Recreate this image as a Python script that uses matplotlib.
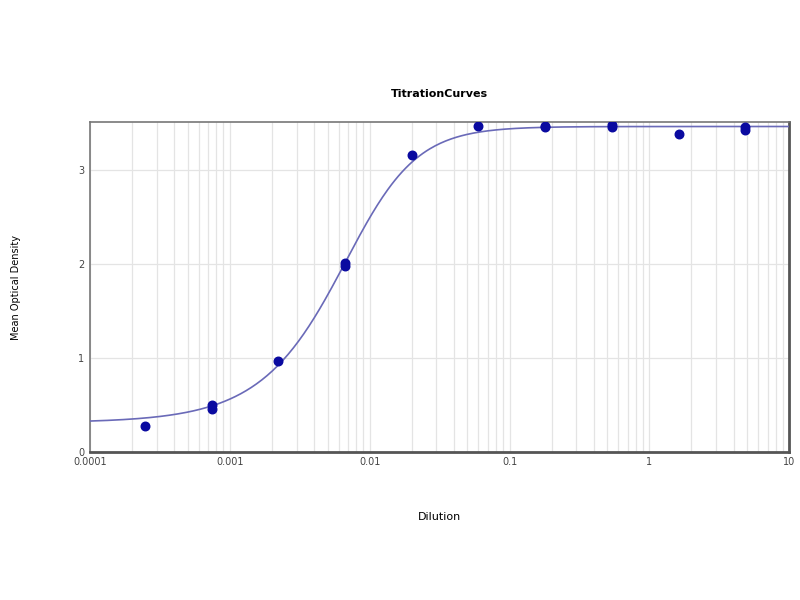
import numpy as np
import matplotlib.pyplot as plt
from matplotlib.ticker import LogLocator, FixedLocator, NullFormatter

# measured points (duplicates per dilution)
dilution = [0.000247, 0.00074, 0.00074, 0.00222, 0.00667, 0.00667,
            0.02, 0.06, 0.18, 0.18, 0.54, 0.54, 1.62, 4.86, 4.86]
od = [0.27, 0.50, 0.45, 0.97, 2.01, 1.98,
      3.16, 3.47, 3.47, 3.46, 3.48, 3.45, 3.38, 3.45, 3.42]

# 5PL fit parameters
bottom = 0.31
top = 3.46
c = 0.0086
hill = 1.8
asym = 0.65

xlabels = ['0.0001', '0.001', '0.01', '0.1', '1', '10']

fig = plt.figure(figsize=(8, 6), dpi=100)
ax = fig.add_axes([0.1125, 0.247, 0.874, 0.55])

xs = np.logspace(-4, 1, 400)
fit = bottom + (top - bottom) / (1 + (c / xs) ** hill) ** asym
ax.plot(xs, fit, color='#6a6ab8', lw=1.2, zorder=3)
ax.scatter(dilution, od, s=38, color='#0a0aa0', zorder=4)

ax.set_xscale('log')
ax.set_xlim(1e-4, 10)
ax.set_ylim(0, 3.51)
ax.xaxis.set_major_locator(FixedLocator([1e-4, 1e-3, 1e-2, 1e-1, 1, 10]))
ax.set_xticklabels(xlabels)
ax.xaxis.set_minor_locator(LogLocator(base=10, subs=np.arange(2, 10)))
ax.xaxis.set_minor_formatter(NullFormatter())
ax.set_yticks([0, 1, 2, 3])

ax.grid(True, which='both', axis='x', color='#e4e4e4', lw=0.9)
ax.grid(True, which='major', axis='y', color='#e4e4e4', lw=0.9)
ax.set_axisbelow(True)
ax.tick_params(which='both', length=0, labelsize=7, colors='#444444', pad=4)

for s in ['left', 'top']:
    ax.spines[s].set_color('#777777')
    ax.spines[s].set_linewidth(1.2)
for s in ['right', 'bottom']:
    ax.spines[s].set_color('#555555')
    ax.spines[s].set_linewidth(2)

ax.set_title('TitrationCurves', fontsize=8, fontweight='bold', pad=18)
ax.set_xlabel('Dilution', fontsize=8, labelpad=32)
fig.text(0.02, 0.52, 'Mean Optical Density', rotation=90, fontsize=7,
         ha='center', va='center')

plt.savefig('out.png', dpi=100)
